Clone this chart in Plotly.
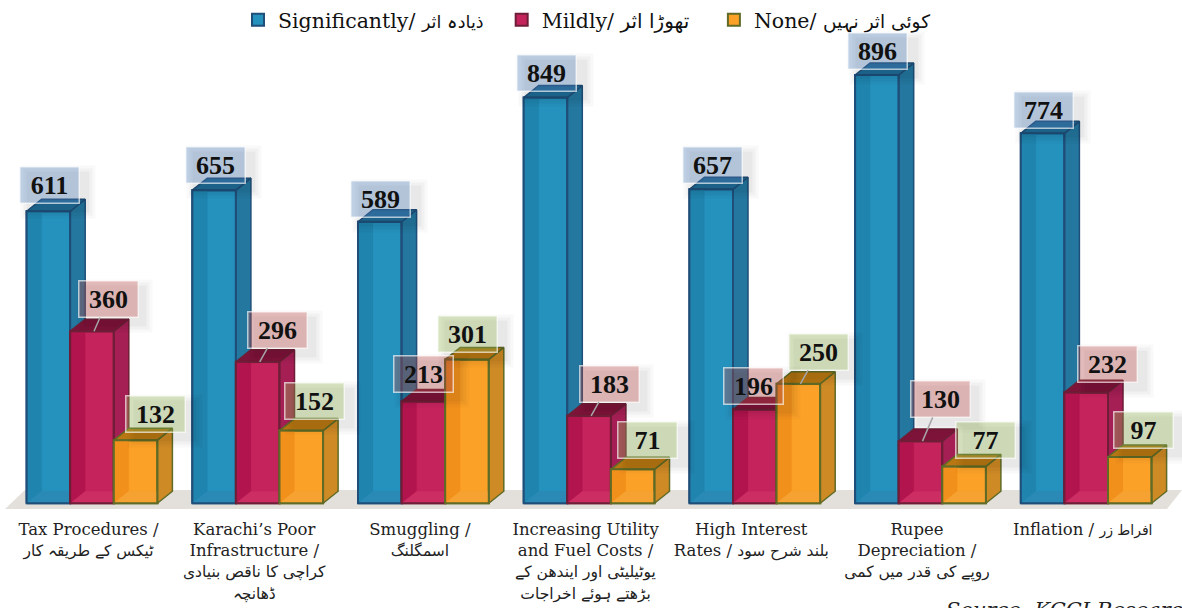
import plotly.graph_objects as go


def ur(text, size=15.5):
    return f"<span style='font-size:{size}px'>{text}</span>"


categories = [
    "Tax Procedures /<br>" + ur("ٹیکس کے طریقہ کار"),
    "Karachi’s Poor<br>Infrastructure /<br>" + ur("کراچی کا ناقص بنیادی") + "<br>" + ur("ڈھانچہ"),
    "Smuggling /<br>" + ur("اسمگلنگ"),
    "Increasing Utility<br>and Fuel Costs /<br>" + ur("یوٹیلیٹی اور ایندھن کے") + "<br>" + ur("بڑھتے ہوئے اخراجات"),
    "High Interest<br>Rates / " + ur("بلند شرح سود"),
    "Rupee<br>Depreciation /<br>" + ur("روپے کی قدر میں کمی"),
    "Inflation / " + ur("افراط زر", 14),
]
significantly = [611, 655, 589, 849, 657, 896, 774]
mildly = [360, 296, 213, 183, 196, 130, 232]
none_vals = [132, 152, 301, 71, 250, 77, 97]
NB = "\u00a0\u00a0"
series_names = [
    "Significantly/ " + ur("ذیادہ اثر", 17.5) + NB,
    "Mildly/ " + ur("تھوڑا اثر", 20) + NB + "\u00a0",
    "None/ " + ur("کوئی اثر نہیں", 18.5),
]

# label offsets from bar top centre, in pixels
blue_off = [(1, -26), (1, -25), (1, -23), (1, -24), (1, -24), (1, -24), (1, -23)]
red_off = [(14, -32), (18, -32), (0, -27), (18, -32), (-1, -24), (18, -42), (21, -28)]
orange_off = [(20, -26), (13, -30), (0, -25), (15, -29), (18, -32), (21, -26), (14, -27)]

W, H = 1182, 608
PX_X = 165.7          # px per group
PX_Y = 0.4777         # px per value unit
BASE_PX = 503
FIRST_CENTER_PX = 92
BAR = 43.6 / PX_X
DX = 15 / PX_X
DY = 12 / PX_Y
Y_PAD = 12
y_top = BASE_PX / PX_Y
x_range = [-FIRST_CENTER_PX / PX_X, (W - FIRST_CENTER_PX) / PX_X]
plot_h = BASE_PX + Y_PAD * PX_Y

styles = [
    dict(front="#2591BD", wall="#1F84AE", side="#24779F", top="#1E6C96", edge="#1F4E79", floor="#2A8AB5",
         box="rgba(79,129,189,0.35)"),
    dict(front="#C4235C", wall="#B2144E", side="#A51F55", top="#7E1339", edge="#6E1F37", floor="#CC2D63",
         box="rgba(192,80,77,0.35)"),
    dict(front="#FBA127", wall="#F2901C", side="#CE8A25", top="#B87712", edge="#5F6B26", floor="#F5A233",
         box="rgba(155,187,89,0.35)"),
]
all_vals = [significantly, mildly, none_vals]
all_off = [blue_off, red_off, orange_off]


def polys(k, vals, builder):
    xs, ys = [], []
    for i, v in enumerate(vals):
        x0 = i + (k - 1.5) * BAR
        for px, py in builder(x0, v):
            xs.append(px)
            ys.append(py)
        xs.append(None)
        ys.append(None)
    return xs, ys


fig = go.Figure()
for k, vals in enumerate(all_vals):
    st = styles[k]
    xa = "x" if k == 0 else f"x{k + 1}"
    ya = "y" if k == 0 else f"y{k + 1}"
    fig.add_trace(go.Bar(
        x=list(range(len(vals))), y=vals, name=series_names[k], width=BAR,
        offset=(k - 1.5) * BAR, marker=dict(color=st["front"], line=dict(color=st["edge"], width=2)),
        xaxis=xa, yaxis=ya, cliponaxis=False, hoverinfo="y",
    ))
    faces = [
        (st["wall"], 0, lambda x, v: [(x, 0), (x + DX, DY), (x + DX, v), (x, v), (x, 0)]),
        (st["floor"], 0, lambda x, v: [(x, 0), (x + DX, DY), (x + BAR, DY), (x + BAR, 0), (x, 0)]),
        (st["side"], 1.5, lambda x, v: [(x + BAR, 0), (x + BAR + DX, DY), (x + BAR + DX, v + DY), (x + BAR, v), (x + BAR, 0)]),
        (st["top"], 1.5, lambda x, v: [(x, v), (x + DX, v + DY), (x + BAR + DX, v + DY), (x + BAR, v), (x, v)]),
    ]
    for color, lw, build in faces:
        xs, ys = polys(k, vals, build)
        fig.add_trace(go.Scatter(
            x=xs, y=ys, mode="lines", fill="toself", fillcolor=color,
            line=dict(color=st["edge"] if lw else color, width=max(lw, 0.1)),
            showlegend=False, hoverinfo="skip", xaxis=xa, yaxis=ya, cliponaxis=False,
        ))
    # front outline redrawn over the inner wall
    xs, ys = polys(k, vals, lambda x, v: [(x, 0), (x, v), (x + BAR, v), (x + BAR, 0), (x, 0)])
    fig.add_trace(go.Scatter(x=xs, y=ys, mode="lines", line=dict(color=st["edge"], width=2),
                             showlegend=False, hoverinfo="skip", xaxis=xa, yaxis=ya, cliponaxis=False))

annotations = []
LEADERS = {(1, 0), (1, 1), (1, 3), (1, 5), (2, 4)}
for k, (vals, offs) in enumerate(zip(all_vals, all_off)):
    for i, (v, (ox, oy)) in enumerate(zip(vals, offs)):
        cx = i + (k - 1) * BAR
        for grow, alpha in ((14, 0.025), (8, 0.03), (2, 0.035)):
            annotations.append(dict(
                x=cx, y=v, xref="x", yref="y", text=" ", showarrow=False,
                xshift=ox + 9, yshift=-oy - 7, width=58 + grow, height=36 + grow,
                bgcolor=f"rgba(0,0,0,{alpha})", xanchor="center", yanchor="middle",
            ))
for k, (vals, offs) in enumerate(zip(all_vals, all_off)):
    for i, (v, (ox, oy)) in enumerate(zip(vals, offs)):
        cx = i + (k - 1) * BAR
        annotations.append(dict(
            x=cx + 2 / PX_X if (k, i) in LEADERS else cx, y=v, xref="x", yref="y",
            text=f"<b>{v}</b>", ax=ox, ay=oy, axref="pixel", ayref="pixel",
            showarrow=True, arrowhead=0, arrowwidth=1.5,
            arrowcolor="#A6A6A6" if (k, i) in LEADERS else "rgba(0,0,0,0)",
            width=58, height=35, align="center", valign="middle",
            bgcolor=styles[k]["box"], bordercolor="rgba(255,255,255,0.65)", borderwidth=1.5, borderpad=0,
            font=dict(family="Liberation Serif", size=26, color="#111111"),
        ))

annotations.append(dict(
    x=944 / W, y=-(610 - plot_h) / plot_h, xref="paper", yref="paper",
    text="<i>Source: KCCI Research</i>", showarrow=False, xanchor="left", yanchor="middle",
    font=dict(family="DejaVu Serif", size=21, color="#222222"),
))

tick_px = [-3.5] * 7

fig.update_layout(
    width=W, height=H, autosize=False, paper_bgcolor="white", plot_bgcolor="rgba(0,0,0,0)",
    margin=dict(l=0, r=0, t=0, b=H - plot_h, pad=0),
    barmode="overlay", hovermode="closest",
    font=dict(family="DejaVu Serif, DejaVu Sans", color="#222222"),
    xaxis=dict(range=x_range, showgrid=False, zeroline=False, showline=False, tickmode="array",
               tickvals=[i + tick_px[i] / PX_X for i in range(7)],
               ticktext=categories, ticks="", ticklabelstandoff=8,
               tickfont=dict(family="DejaVu Serif, DejaVu Sans", size=16.5, color="#222222"),
               tickangle=0, automargin=False),
    yaxis=dict(range=[-Y_PAD, y_top], showgrid=False, zeroline=False, showline=False, visible=False),
    xaxis2=dict(range=x_range, overlaying="x", visible=False),
    yaxis2=dict(range=[-Y_PAD, y_top], overlaying="y", visible=False),
    xaxis3=dict(range=x_range, overlaying="x", visible=False),
    yaxis3=dict(range=[-Y_PAD, y_top], overlaying="y", visible=False),
    legend=dict(orientation="h", x=(278 - 40) / W, xanchor="left", y=1.0, yanchor="top",
                font=dict(family="DejaVu Serif, DejaVu Sans", size=20.5, color="#111111"),
                bgcolor="rgba(0,0,0,0)", traceorder="normal"),
    annotations=annotations,
    shapes=[dict(type="path", layer="below", xref="x", yref="y", line=dict(width=0), fillcolor="#E3E0DB",
                 path=f"M {x_range[0] + 5 / PX_X} {-Y_PAD} L {x_range[0] + 25 / PX_X} {1.1 * DY} "
                      f"L {x_range[1]} {1.1 * DY} L {x_range[1] - 15 / PX_X} {-Y_PAD} Z")],
)
fig.write_html("out.html", config=dict(displayModeBar=False),
               post_script="document.body.style.margin='0';document.body.style.overflow='hidden';")
